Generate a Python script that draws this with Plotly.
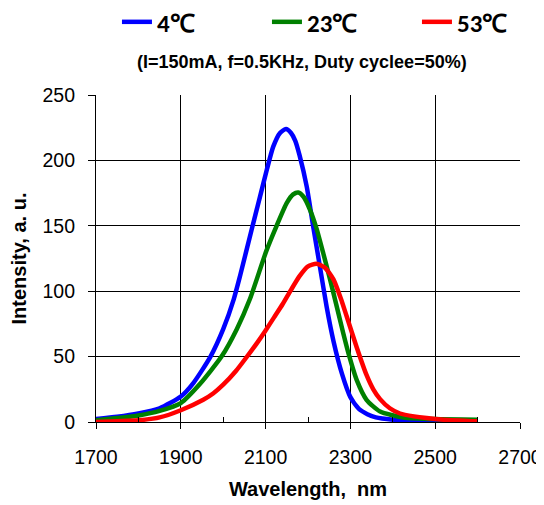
import plotly.graph_objects as go

# ---- data ----
wl_4C = [1700, 1750, 1800, 1850, 1900, 1930, 1970, 2000, 2025, 2040, 2067, 2087, 2103, 2118,
         2134, 2148, 2160, 2170, 2180, 2197, 2212, 2228, 2244, 2260, 2280, 2300, 2320, 2340,
         2360, 2400, 2450, 2500, 2600]
int_4C = [2.3, 4, 6.5, 10.5, 19.5, 30, 50, 71, 94, 112, 147, 172.5, 193, 210.5,
          221, 224, 221, 215, 204, 180, 150, 119, 88, 62, 37, 19, 10, 6,
          3.5, 1.8, 1.0, 0.7, 0.5]

wl_23C = [1700, 1750, 1800, 1850, 1900, 1945, 1996, 2032, 2063, 2102, 2126, 2150,
          2165, 2177, 2190, 2205, 2220, 2236, 2252, 2268, 2283, 2295, 2315, 2338, 2370, 2425,
          2500, 2600]
int_23C = [1.3, 3, 5, 8.5, 14.5, 29, 50, 71, 94, 131, 150, 167.5,
           174, 175.5, 172, 162, 148, 129, 109, 88, 68, 53, 32, 17, 8, 3.5,
           2.2, 1.8]

wl_53C = [1700, 1750, 1800, 1850, 1900, 1953, 1977, 2000, 2030, 2055, 2080, 2100, 2120, 2140,
          2160, 2180, 2200, 2220, 2240, 2260, 2280, 2291, 2315, 2338, 2354, 2370, 2393, 2417,
          2450, 2480, 2520, 2600]
int_53C = [0, 0.6, 1.3, 3.5, 9, 17, 22, 28.5, 39, 49.5, 60.5, 70, 80, 90,
           101, 111.5, 119, 121, 118, 109, 92, 81, 57, 36, 25, 17.5, 10.5, 6.5,
           4.3, 3, 1.8, 0.5]

series_names = ["4℃", "23℃", "53℃"]
series_colors = ["#0000FF", "#008000", "#FF0000"]

x_ticks = [1700, 1900, 2100, 2300, 2500, 2700]
y_ticks = [0, 50, 100, 150, 200, 250]

subtitle = "(I=150mA, f=0.5KHz, Duty cyclee=50%)"
x_title = "Wavelength,  nm"
y_title = "Intensity, a. u."

fig = go.Figure()
for wl, iv, name, col in zip([wl_4C, wl_23C, wl_53C], [int_4C, int_23C, int_53C],
                             series_names, series_colors):
    fig.add_trace(go.Scatter(x=wl, y=iv, name=name, mode="lines",
                             line=dict(color=col, width=4.5, shape="spline", smoothing=0.6)))

# page body has an 8px margin: figure is 8px smaller so it fits the 544x505 window
fig.update_layout(
    width=536, height=497,
    margin=dict(l=88, r=24, t=87, b=83, autoexpand=False),
    paper_bgcolor="white", plot_bgcolor="white",
    font=dict(family="Arial, Liberation Sans, sans-serif", color="black"),
    showlegend=True,
    legend=dict(orientation="h", x=-0.0001, xanchor="left", y=1.223, yanchor="middle",
                borderwidth=21, bordercolor="rgba(0,0,0,0)",
                font=dict(family="Carlito, Calibri, Liberation Sans, Arial, sans-serif",
                          size=25, color="black", weight="bold"),
                entrywidth=105, bgcolor="rgba(0,0,0,0)"),
    annotations=[dict(text=f"<b>{subtitle}</b>", xref="paper", yref="paper",
                      x=0.486, y=1.101, xanchor="center", yanchor="middle",
                      showarrow=False,
                      font=dict(family="Arial, Liberation Sans, sans-serif", size=18, color="black"))],
)

fig.update_xaxes(
    range=[1700, 2700], tickvals=x_ticks, ticktext=[str(v) for v in x_ticks],
    showgrid=True, gridcolor="black", gridwidth=1,
    showline=True, linecolor="black", linewidth=1.2,
    ticks="outside", ticklen=6, tickcolor="black", tickwidth=1,
    tickfont=dict(size=19.5, color="black"), ticklabelstandoff=11,
    title=dict(text=f"<b>{x_title}</b>", font=dict(size=20, color="black"), standoff=15),
    zeroline=False, automargin=False,
    minor=dict(tick0=1800, dtick=200, ticks="inside", ticklen=5, tickcolor="black",
               tickwidth=1, showgrid=False),
)
fig.update_yaxes(
    range=[0, 250], tickvals=y_ticks, ticktext=[str(v) for v in y_ticks],
    showgrid=True, gridcolor="black", gridwidth=1,
    showline=True, linecolor="black", linewidth=1.2,
    ticks="outside", ticklen=7, tickcolor="black", tickwidth=1,
    tickfont=dict(size=19.5, color="black"), ticklabelstandoff=9,
    title=dict(text=f"<b>{y_title}</b>", font=dict(size=20, color="black"), standoff=10),
    zeroline=False, automargin=False,
)

fig.write_html("out.html")
